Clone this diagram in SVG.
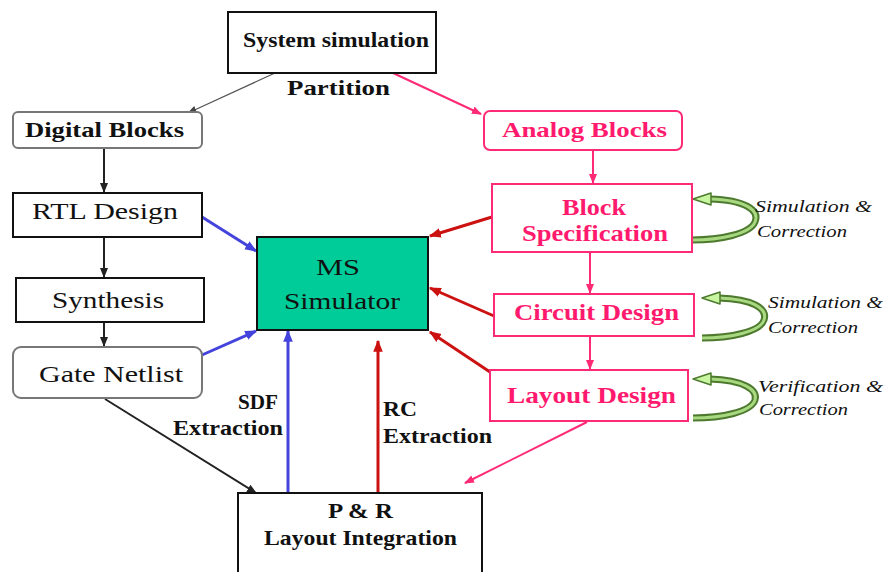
<svg xmlns="http://www.w3.org/2000/svg" width="884" height="572" viewBox="0 0 884 572">
  <defs>
    <style>
      .box { fill: #ffffff; stroke: #111111; stroke-width: 2; }
      .rbox { fill: #ffffff; stroke: #777777; stroke-width: 2; }
      .pbox { fill: #ffffff; stroke: #ff2a75; stroke-width: 2; }
      .sim { fill: #00cc99; stroke: #111111; stroke-width: 2; }
      text { font-family: "Liberation Serif", "Times New Roman", Tinos, "DejaVu Serif", serif; }
      .tb { font-weight: bold; fill: #111111; }
      .tr { fill: #111111; }
      .tp { font-weight: bold; fill: #ff1a6e; }
      .ti { font-style: italic; fill: #111111; font-size: 17px; }
      .lk { fill: none; stroke: #222222; stroke-width: 2; }
      .lg { fill: none; stroke: #555555; stroke-width: 1.2; }
      .lp { fill: none; stroke: #ff2a75; stroke-width: 2; }
      .lb { fill: none; stroke: #4444dd; stroke-width: 3; }
      .lr { fill: none; stroke: #cc1111; stroke-width: 3; }
      .loopo { fill: none; stroke: #4d7a2e; stroke-width: 7; stroke-linecap: butt; }
      .loopi { fill: none; stroke: #a8d880; stroke-width: 3; stroke-linecap: butt; }
      .head { fill: #c8f5a0; stroke: #4d7a2e; stroke-width: 1.5; stroke-linejoin: round; }
    </style>
    <marker id="ak" viewBox="0 0 10 10" refX="9" refY="5" markerWidth="5" markerHeight="5" orient="auto" markerUnits="strokeWidth">
      <path d="M0,1 L10,5 L0,9 z" fill="#222222"/>
    </marker>
    <marker id="ag" viewBox="0 0 10 10" refX="9" refY="5" markerWidth="8" markerHeight="8" orient="auto" markerUnits="strokeWidth">
      <path d="M0,1 L10,5 L0,9 z" fill="#444444"/>
    </marker>
    <marker id="ap" viewBox="0 0 10 10" refX="9" refY="5" markerWidth="5" markerHeight="5" orient="auto" markerUnits="strokeWidth">
      <path d="M0,1 L10,5 L0,9 z" fill="#ff2a75"/>
    </marker>
    <marker id="ab" viewBox="0 0 10 10" refX="9" refY="5" markerWidth="4" markerHeight="4" orient="auto" markerUnits="strokeWidth">
      <path d="M0,1 L10,5 L0,9 z" fill="#4444dd"/>
    </marker>
    <marker id="ar" viewBox="0 0 10 10" refX="9" refY="5" markerWidth="4" markerHeight="4" orient="auto" markerUnits="strokeWidth">
      <path d="M0,1 L10,5 L0,9 z" fill="#cc1111"/>
    </marker>
  </defs>

  <rect width="884" height="572" fill="#ffffff"/>

  <!-- connectors -->
  <g id="connectors">
    <line class="lg" x1="275" y1="73" x2="188" y2="113" marker-end="url(#ag)"/>
    <line class="lp" x1="393" y1="73" x2="481" y2="114" marker-end="url(#ap)"/>
    <line class="lk" x1="104" y1="148" x2="104" y2="192" marker-end="url(#ak)"/>
    <line class="lk" x1="104" y1="237" x2="104" y2="277" marker-end="url(#ak)"/>
    <line class="lk" x1="104" y1="322" x2="104" y2="346" marker-end="url(#ak)"/>
    <line class="lp" x1="593" y1="150" x2="593" y2="183" marker-end="url(#ap)"/>
    <line class="lp" x1="590" y1="252" x2="590" y2="293" marker-end="url(#ap)"/>
    <line class="lp" x1="590" y1="336" x2="590" y2="369" marker-end="url(#ap)"/>
    <line class="lb" x1="202" y1="217" x2="256" y2="251" marker-end="url(#ab)"/>
    <line class="lb" x1="202" y1="355" x2="256" y2="331" marker-end="url(#ab)"/>
    <line class="lb" x1="288" y1="493" x2="288" y2="331" marker-end="url(#ab)"/>
    <line class="lr" x1="378" y1="493" x2="378" y2="341" marker-end="url(#ar)"/>
    <line class="lr" x1="492" y1="217" x2="430" y2="236" marker-end="url(#ar)"/>
    <line class="lr" x1="494" y1="316" x2="430" y2="288" marker-end="url(#ar)"/>
    <line class="lr" x1="490" y1="372" x2="430" y2="332" marker-end="url(#ar)"/>
    <line class="lk" x1="105" y1="399" x2="256" y2="493" marker-end="url(#ak)"/>
    <line class="lp" x1="587" y1="422" x2="465" y2="483" marker-end="url(#ap)"/>
  </g>

  <!-- curved feedback arrows on the analog side -->
  <g id="loops">
    <g id="loop-spec">
      <path class="loopo" d="M710,199 C745,200 760,210 755,222 C750,234 720,240 692,240"/>
      <path class="loopi" d="M710,199 C745,200 760,210 755,222 C750,234 720,240 692,240"/>
      <path class="head" d="M693,199 L711,193 L711,205 z"/>
    </g>
    <g id="loop-circuit">
      <path class="loopo" d="M719,298 C752,299 768,308 764,320 C760,332 730,338 702,338"/>
      <path class="loopi" d="M719,298 C752,299 768,308 764,320 C760,332 730,338 702,338"/>
      <path class="head" d="M702,298 L720,292 L720,304 z"/>
    </g>
    <g id="loop-layout">
      <path class="loopo" d="M710,379 C744,380 758,390 755,400 C751,412 722,418 693,418"/>
      <path class="loopi" d="M710,379 C744,380 758,390 755,400 C751,412 722,418 693,418"/>
      <path class="head" d="M693,379 L711,373 L711,385 z"/>
    </g>
  </g>

  <!-- nodes -->
  <g id="system-simulation">
    <rect class="box" x="228" y="12" width="208" height="61"/>
    <text class="tb" x="243" y="47" font-size="20" textLength="186" lengthAdjust="spacingAndGlyphs">System simulation</text>
  </g>
  <g id="partition-label">
    <text class="tb" x="287" y="95" font-size="22" textLength="103" lengthAdjust="spacingAndGlyphs">Partition</text>
  </g>
  <g id="digital-blocks">
    <rect class="rbox" x="13" y="112" width="189" height="36" rx="5"/>
    <text class="tb" x="25" y="137" font-size="22" textLength="159" lengthAdjust="spacingAndGlyphs">Digital Blocks</text>
  </g>
  <g id="analog-blocks">
    <rect class="pbox" x="484" y="111" width="198" height="39" rx="6"/>
    <text class="tp" x="502" y="137" font-size="22" textLength="165" lengthAdjust="spacingAndGlyphs">Analog Blocks</text>
  </g>
  <g id="rtl-design">
    <rect class="box" x="13" y="193" width="189" height="44"/>
    <text class="tr" x="32" y="219" font-size="24" textLength="146" lengthAdjust="spacingAndGlyphs">RTL Design</text>
  </g>
  <g id="synthesis">
    <rect class="box" x="16" y="278" width="188" height="44"/>
    <text class="tr" x="52" y="308" font-size="24" textLength="112" lengthAdjust="spacingAndGlyphs">Synthesis</text>
  </g>
  <g id="gate-netlist">
    <rect class="rbox" x="13" y="347" width="189" height="51" rx="8"/>
    <text class="tr" x="39" y="382" font-size="24" textLength="144" lengthAdjust="spacingAndGlyphs">Gate Netlist</text>
  </g>
  <g id="ms-simulator">
    <rect class="sim" x="257" y="237" width="171" height="93"/>
    <text class="tr" x="316" y="275" font-size="24" textLength="44" lengthAdjust="spacingAndGlyphs">MS</text>
    <text class="tr" x="284" y="309" font-size="24" textLength="116" lengthAdjust="spacingAndGlyphs">Simulator</text>
  </g>
  <g id="block-specification">
    <rect class="pbox" x="492" y="184" width="200" height="68"/>
    <text class="tp" x="562" y="215" font-size="24" textLength="64" lengthAdjust="spacingAndGlyphs">Block</text>
    <text class="tp" x="522" y="241" font-size="24" textLength="146" lengthAdjust="spacingAndGlyphs">Specification</text>
  </g>
  <g id="circuit-design">
    <rect class="pbox" x="494" y="294" width="200" height="42"/>
    <text class="tp" x="514" y="320" font-size="24" textLength="165" lengthAdjust="spacingAndGlyphs">Circuit Design</text>
  </g>
  <g id="layout-design">
    <rect class="pbox" x="490" y="370" width="198" height="51"/>
    <text class="tp" x="507" y="403" font-size="24" textLength="169" lengthAdjust="spacingAndGlyphs">Layout Design</text>
  </g>
  <g id="pr-layout-integration">
    <rect class="box" x="238" y="493" width="244" height="90"/>
    <text class="tb" x="328" y="518" font-size="21" textLength="65" lengthAdjust="spacingAndGlyphs">P &amp; R</text>
    <text class="tb" x="264" y="545" font-size="21" textLength="193" lengthAdjust="spacingAndGlyphs">Layout Integration</text>
  </g>

  <!-- connector labels -->
  <g id="labels">
    <text class="tb" x="238" y="409" font-size="20" textLength="40" lengthAdjust="spacingAndGlyphs">SDF</text>
    <text class="tb" x="173" y="435" font-size="20" textLength="110" lengthAdjust="spacingAndGlyphs">Extraction</text>
    <text class="tb" x="383" y="416" font-size="20" textLength="34" lengthAdjust="spacingAndGlyphs">RC</text>
    <text class="tb" x="383" y="443" font-size="20" textLength="109" lengthAdjust="spacingAndGlyphs">Extraction</text>
    <text class="ti" x="755" y="212" textLength="117" lengthAdjust="spacingAndGlyphs">Simulation &amp;</text>
    <text class="ti" x="757" y="237" textLength="90" lengthAdjust="spacingAndGlyphs">Correction</text>
    <text class="ti" x="768" y="308" textLength="115" lengthAdjust="spacingAndGlyphs">Simulation &amp;</text>
    <text class="ti" x="768" y="333" textLength="90" lengthAdjust="spacingAndGlyphs">Correction</text>
    <text class="ti" x="758" y="392" textLength="125" lengthAdjust="spacingAndGlyphs">Verification &amp;</text>
    <text class="ti" x="759" y="415" textLength="89" lengthAdjust="spacingAndGlyphs">Correction</text>
  </g>
</svg>
